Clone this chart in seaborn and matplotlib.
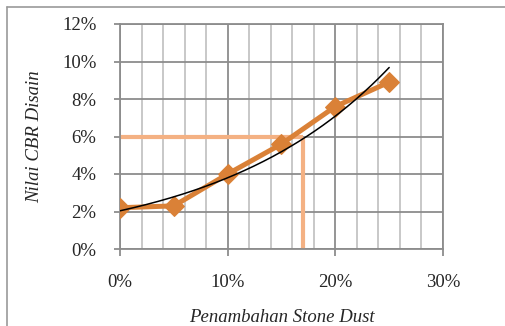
import numpy as np
import pandas as pd
import matplotlib
matplotlib.use('Agg')
import matplotlib.pyplot as plt
from matplotlib.lines import Line2D
from matplotlib.ticker import MultipleLocator, FuncFormatter
import seaborn as sns

# data (values in %)
stone_dust = [0, 5, 10, 15, 20, 25]
cbr_disain = [2.2, 2.3, 4.0, 5.6, 7.6, 8.9]
# reading of the design value at CBR 6%
cbr_target = 6
dust_target = 17

sns.set_style('white')
plt.rcParams['font.family'] = ['Liberation Serif', 'DejaVu Serif']
plt.rcParams['font.size'] = 13.5

df = pd.DataFrame({'x': stone_dust, 'y': cbr_disain})

# exponential trendline fitted to the data
k, b = np.polyfit(df['x'], np.log(df['y']), 1)
xt = np.linspace(min(stone_dust), max(stone_dust), 200)
trend = pd.DataFrame({'x': xt, 'y': np.exp(b) * np.exp(k * xt)})

fig = plt.figure(figsize=(5.06, 3.26), dpi=100)
ax = fig.add_axes([120 / 506, 1 - 249 / 326, 323 / 506, 225 / 326])

# grid
ax.xaxis.set_major_locator(MultipleLocator(10))
ax.xaxis.set_minor_locator(MultipleLocator(2))
ax.yaxis.set_major_locator(MultipleLocator(2))
ax.grid(which='major', axis='both', color='#8c8c8c', lw=1.3, zorder=0)
ax.grid(which='minor', axis='x', color='#c4c4c4', lw=1.3, zorder=0)
ax.set_axisbelow(True)

# design reading lines
ax.plot([0, dust_target], [cbr_target, cbr_target], color='#F4B183', lw=3, solid_capstyle='butt', zorder=2)
ax.plot([dust_target, dust_target], [cbr_target, 0], color='#F4B183', lw=3, solid_capstyle='butt', zorder=2, clip_on=False)

sns.lineplot(data=df, x='x', y='y', ax=ax, color='#DA8137', lw=3.6, marker='D',
             markersize=10, markeredgecolor='#DA8137', zorder=3)
sns.lineplot(data=trend, x='x', y='y', ax=ax, color='black', lw=1.1, zorder=4)

ax.set_xlim(0, 30)
ax.set_ylim(0, 12)
ax.xaxis.set_major_formatter(FuncFormatter(lambda v, p: f'{v:.0f}%'))
ax.yaxis.set_major_formatter(FuncFormatter(lambda v, p: f'{v:.0f}%'))
ax.tick_params(axis='x', which='major', length=5, width=1.3, color='#8c8c8c', pad=13, direction='out', bottom=True)
ax.tick_params(axis='x', which='minor', length=0)
ax.tick_params(axis='y', which='major', length=4, width=1.3, color='#8c8c8c', pad=13, direction='out', left=True)
for s in ax.spines.values():
    s.set_color('#8c8c8c')
    s.set_linewidth(1.3)

ax.set_xlabel('Penambahan Stone Dust', style='italic')
ax.set_ylabel('Nilai CBR Disain', style='italic')
ax.xaxis.set_label_coords(0.5, (249 - 318) / 225, transform=ax.transAxes)
ax.yaxis.set_label_coords((35 - 120) / 323, 0.5, transform=ax.transAxes)
ax.xaxis.label.set_verticalalignment('center')
ax.yaxis.label.set_verticalalignment('center')

# outer chart frame
fig.add_artist(Line2D([7 / 506, 1], [1 - 7 / 326, 1 - 7 / 326], color='#9a9a9a', lw=1.2, transform=fig.transFigure))
fig.add_artist(Line2D([7 / 506, 7 / 506], [0, 1 - 7 / 326], color='#9a9a9a', lw=1.2, transform=fig.transFigure))

fig.savefig('out.png', dpi=100)
